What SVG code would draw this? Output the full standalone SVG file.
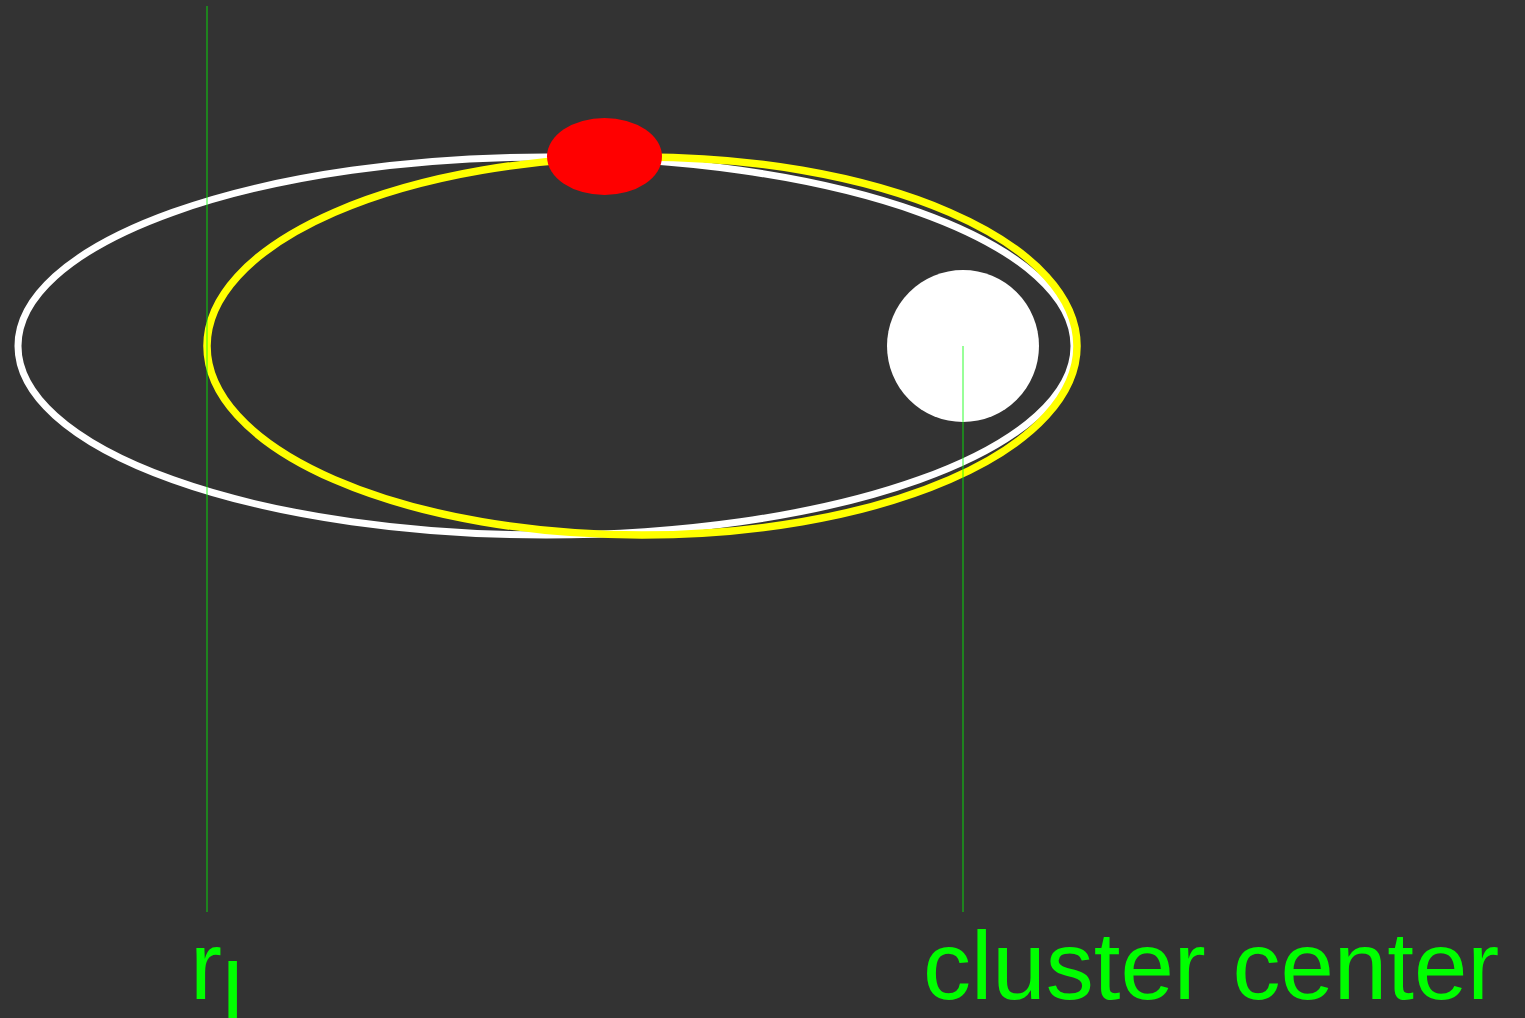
<svg xmlns="http://www.w3.org/2000/svg" width="1525" height="1018" viewBox="0 0 1525 1018">
<style>
.orbit{fill:none}
.guide{stroke:#00ff00;stroke-width:1;opacity:0.8}
.lbl{font-family:"Liberation Sans",Arial,sans-serif;font-size:96px;fill:#00ff00}
</style>
<rect x="0" y="0" width="1525" height="1018" fill="#333333"/>
<g id="orbit-white"><ellipse class="orbit" cx="546" cy="346" rx="528" ry="189" stroke="#ffffff" stroke-width="7"/></g>
<g id="orbit-yellow"><ellipse class="orbit" cx="642" cy="346" rx="435" ry="189" stroke="#ffff00" stroke-width="7.5"/></g>
<g id="star"><ellipse cx="604.5" cy="156.5" rx="57.5" ry="38.5" fill="#ff0000"/></g>
<g id="cluster"><circle cx="963" cy="346" r="76" fill="#ffffff"/></g>
<g id="connectors">
<line class="guide" x1="207" y1="6" x2="207" y2="912"/>
<line class="guide" x1="963" y1="346" x2="963" y2="912"/>
</g>
<g id="label-rl"><text class="lbl" x="190" y="999">r<tspan dy="32">l</tspan></text></g>
<g id="label-cluster"><text class="lbl" x="923" y="999">cluster center</text></g>
</svg>
